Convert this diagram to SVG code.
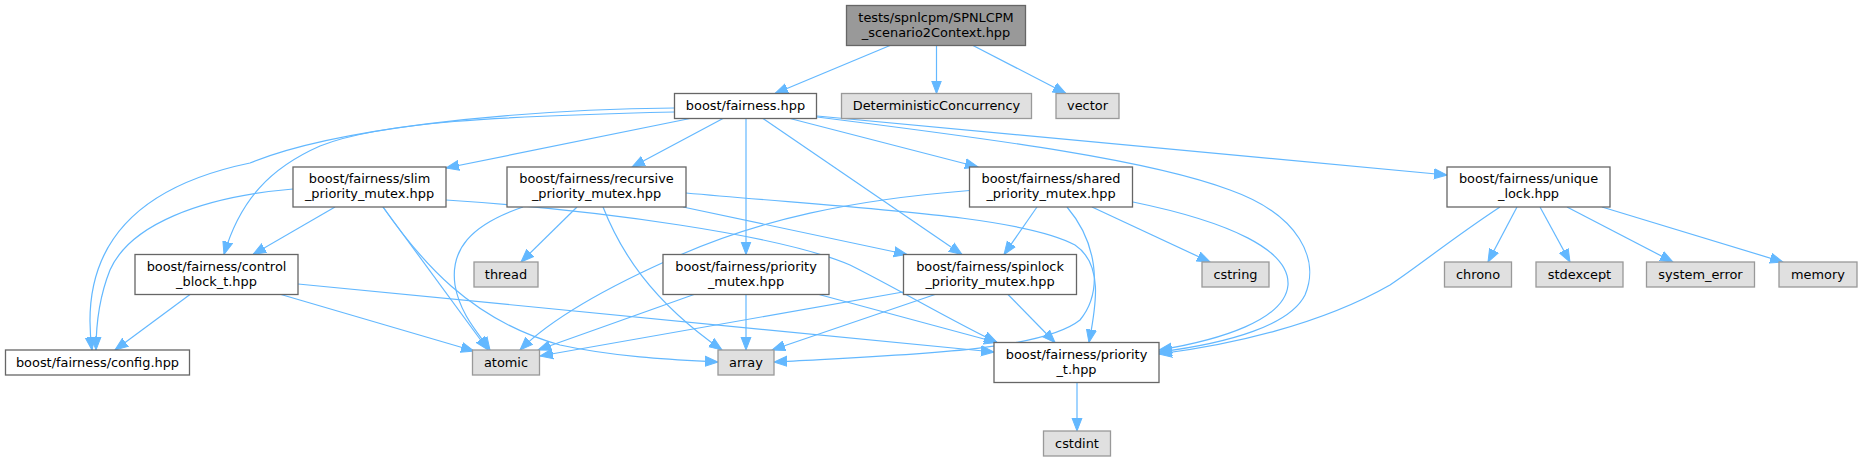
<svg xmlns="http://www.w3.org/2000/svg" width="1862" height="461" viewBox="0 0 1862 461">
<style>
.n rect{fill:#ffffff;stroke:#666666;stroke-width:1.3}
.x rect{fill:#e0e0e0;stroke:#999999;stroke-width:1.3}
.r rect{fill:#999999;stroke:#666666;stroke-width:1.3}
text{font-family:"DejaVu Sans","Liberation Sans",sans-serif;font-size:12.9px;fill:#000000;text-anchor:middle}
#edges path{fill:none;stroke:#63b8ff;stroke-width:1.2;marker-end:url(#ah)}
</style>
<defs>
<marker id="ah" markerUnits="userSpaceOnUse" markerWidth="14" markerHeight="12" refX="13" refY="5" orient="auto" viewBox="0 0 14 10">
<path d="M0,0 L13,5 L0,10 z" fill="#63b8ff" stroke="#63b8ff" stroke-width="1"/>
</marker>
</defs>
<rect x="0" y="0" width="1862" height="461" fill="#ffffff"/>
<g id="edges">
<path d="M890,45.5 L775,93.5"/>
<path d="M936.5,45.5 L936.5,93.5"/>
<path d="M973,45.5 L1066,93.5"/>
<path d="M674.5,108 C500,110 330,130 250,163 C120,190 80,260 92,350"/>
<path d="M674.5,112 C500,116 380,122 320,146 C270,168 240,200 224,254.5"/>
<path d="M690,118.5 L446,168"/>
<path d="M723,118.5 L632,167"/>
<path d="M746,118.5 L746,254.5"/>
<path d="M763,118.5 L962,254.5"/>
<path d="M790,118.5 L978,167"/>
<path d="M817,117 C1000,140 1150,160 1230,190 C1300,215 1320,260 1305,295 C1290,325 1230,343 1159,352"/>
<path d="M817,116 L1447,175"/>
<path d="M335,207 L253,254.5"/>
<path d="M293,189 C200,197 130,225 110,270 C98,300 96,330 96,350"/>
<path d="M383,207 L488,350"/>
<path d="M383,207 C420,260 470,320 560,345 C620,358 680,360 718,362"/>
<path d="M446,200 C600,210 780,235 850,265 C900,290 950,320 997,342.5"/>
<path d="M190,294.5 L115,350"/>
<path d="M281,294.5 L474,351"/>
<path d="M298,284 L994,352"/>
<path d="M577,207 L521,262"/>
<path d="M523,207 C470,225 450,250 455,285 C460,315 480,335 490,350"/>
<path d="M603,207 C620,250 650,300 722,350"/>
<path d="M683,207 L907,254.5"/>
<path d="M686,193 C850,208 1020,215 1075,245 C1105,265 1095,310 1089,342.5"/>
<path d="M694,294.5 L538,350"/>
<path d="M746,294.5 L746,350"/>
<path d="M819,294.5 L997,342.5"/>
<path d="M969.5,190.5 C850,200 760,220 680,255 C600,290 550,320 520,350"/>
<path d="M1037,207 L1004,254.5"/>
<path d="M1092,207 L1210,262"/>
<path d="M1067,207 C1095,240 1105,290 1080,320 C1040,352 900,355 774,362"/>
<path d="M1133,202 C1230,222 1290,250 1288,285 C1285,320 1220,340 1159,350"/>
<path d="M903,292 L540,356"/>
<path d="M935,294.5 L772,350"/>
<path d="M1008,294.5 L1055,342.5"/>
<path d="M1500,207 C1450,240 1420,265 1390,285 C1320,325 1230,345 1159,354"/>
<path d="M1517,207 L1488,262"/>
<path d="M1540,207 L1570,262"/>
<path d="M1567,207 L1673,262"/>
<path d="M1602,207 L1783,262"/>
<path d="M1077,382.5 L1077,431"/>
</g>
<g id="root" class="r"><rect x="846.5" y="5.5" width="179" height="40"/><text x="936" y="21.5">tests/spnlcpm/SPNLCPM</text><text x="936" y="36.5">_scenario2Context.hpp</text></g>
<g id="fairness" class="n"><rect x="674.5" y="93.5" width="142" height="25"/><text x="745.5" y="110">boost/fairness.hpp</text></g>
<g id="dc" class="x"><rect x="841.5" y="93.5" width="190" height="25"/><text x="936.5" y="110">DeterministicConcurrency</text></g>
<g id="vector" class="x"><rect x="1056" y="93.5" width="63" height="25"/><text x="1087.5" y="110">vector</text></g>
<g id="slim" class="n"><rect x="293" y="167" width="153" height="40"/><text x="369.5" y="183">boost/fairness/slim</text><text x="369.5" y="198">_priority_mutex.hpp</text></g>
<g id="recursive" class="n"><rect x="507" y="167" width="179" height="40"/><text x="596.5" y="183">boost/fairness/recursive</text><text x="596.5" y="198">_priority_mutex.hpp</text></g>
<g id="shared" class="n"><rect x="969.5" y="167" width="163" height="40"/><text x="1051" y="183">boost/fairness/shared</text><text x="1051" y="198">_priority_mutex.hpp</text></g>
<g id="unique" class="n"><rect x="1447" y="167" width="163" height="40"/><text x="1528.5" y="183">boost/fairness/unique</text><text x="1528.5" y="198">_lock.hpp</text></g>
<g id="control_block" class="n"><rect x="135" y="254.5" width="163" height="40"/><text x="216.5" y="270.5">boost/fairness/control</text><text x="216.5" y="285.5">_block_t.hpp</text></g>
<g id="thread" class="x"><rect x="474" y="262" width="64" height="25"/><text x="506" y="278.5">thread</text></g>
<g id="priority_mutex" class="n"><rect x="663" y="254.5" width="166" height="40"/><text x="746" y="270.5">boost/fairness/priority</text><text x="746" y="285.5">_mutex.hpp</text></g>
<g id="spinlock" class="n"><rect x="903.5" y="254.5" width="173" height="40"/><text x="990" y="270.5">boost/fairness/spinlock</text><text x="990" y="285.5">_priority_mutex.hpp</text></g>
<g id="cstring" class="x"><rect x="1202" y="262" width="67" height="25"/><text x="1235.5" y="278.5">cstring</text></g>
<g id="chrono" class="x"><rect x="1444.5" y="262" width="67" height="25"/><text x="1478" y="278.5">chrono</text></g>
<g id="stdexcept" class="x"><rect x="1536" y="262" width="87" height="25"/><text x="1579.5" y="278.5">stdexcept</text></g>
<g id="system_error" class="x"><rect x="1646.5" y="262" width="108" height="25"/><text x="1700.5" y="278.5">system_error</text></g>
<g id="memory" class="x"><rect x="1779" y="262" width="78" height="25"/><text x="1818" y="278.5">memory</text></g>
<g id="config" class="n"><rect x="5.5" y="350" width="184" height="25"/><text x="97.5" y="366.5">boost/fairness/config.hpp</text></g>
<g id="atomic" class="x"><rect x="472.5" y="350" width="67" height="25"/><text x="506" y="366.5">atomic</text></g>
<g id="array" class="x"><rect x="718" y="350" width="56" height="25"/><text x="746" y="366.5">array</text></g>
<g id="priority_t" class="n"><rect x="994" y="342.5" width="165" height="40"/><text x="1076.5" y="358.5">boost/fairness/priority</text><text x="1076.5" y="373.5">_t.hpp</text></g>
<g id="cstdint" class="x"><rect x="1043.5" y="431" width="67" height="25"/><text x="1077" y="447.5">cstdint</text></g>
</svg>
